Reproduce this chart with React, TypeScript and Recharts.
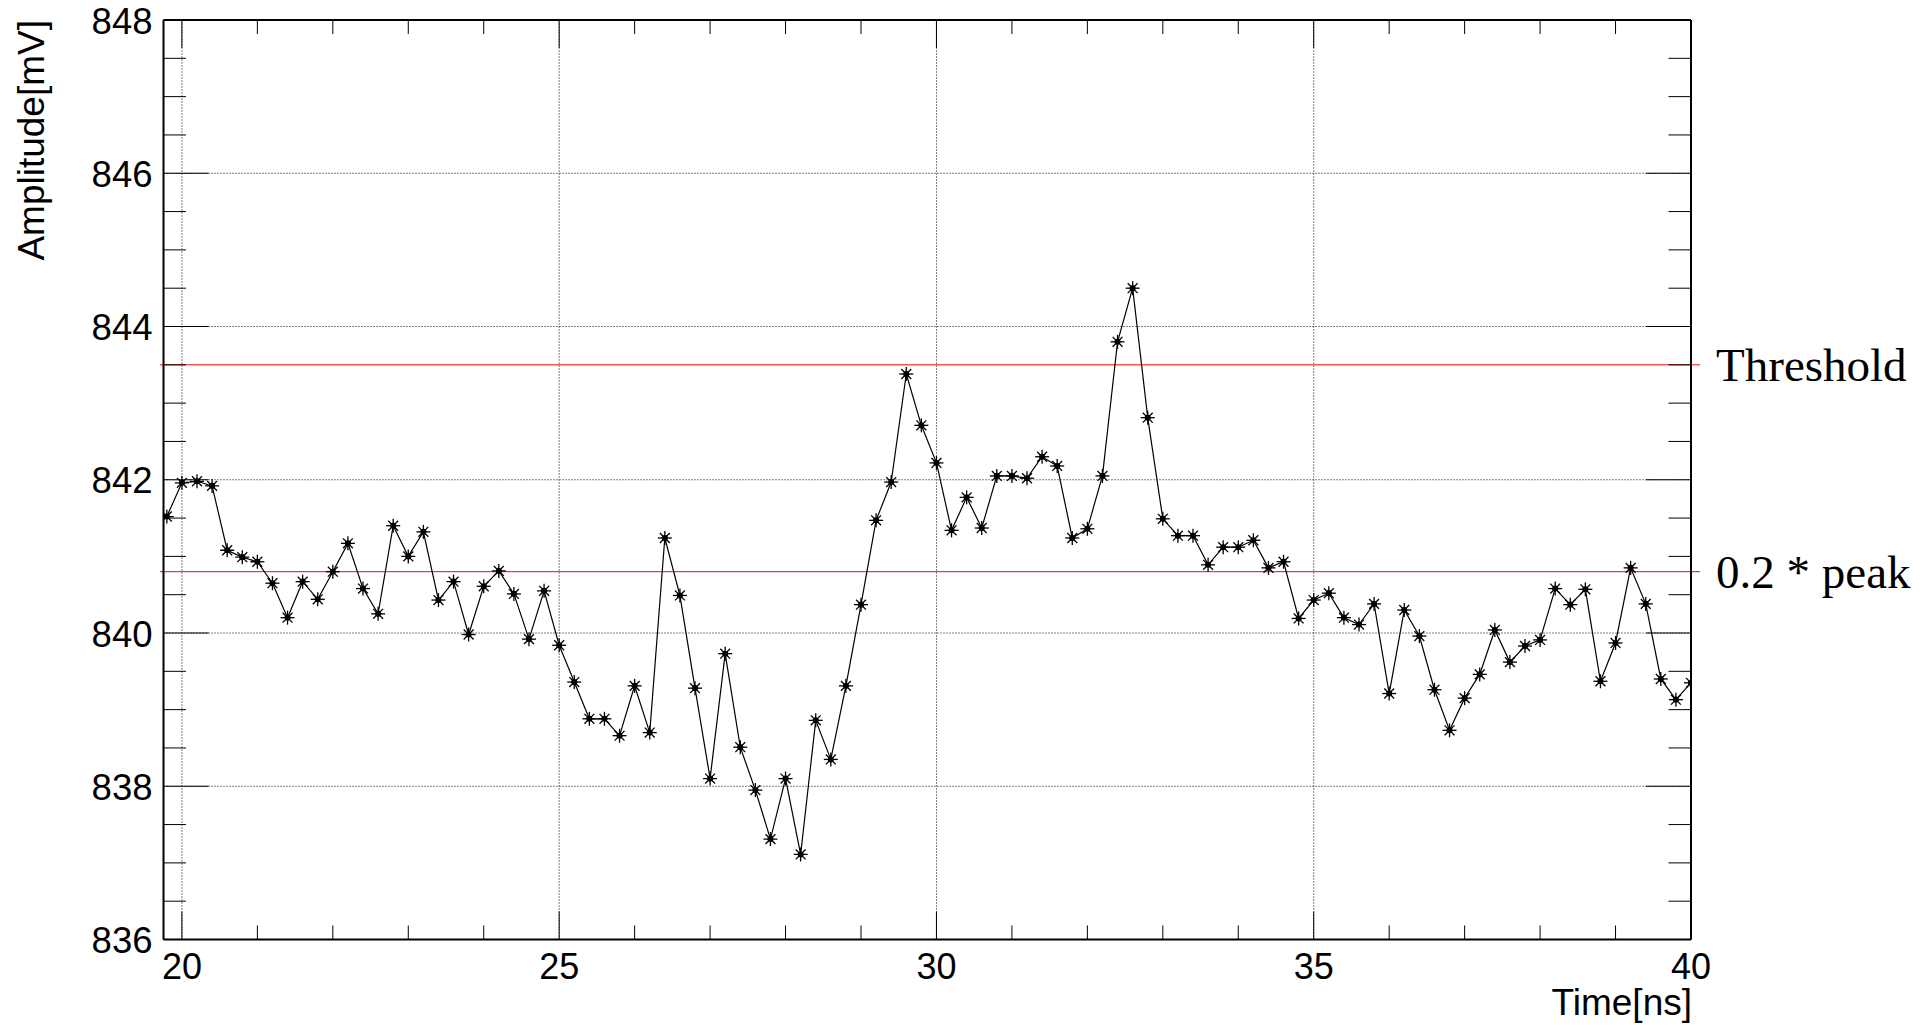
import React from 'react'
import { LineChart, Line, XAxis, YAxis, ReferenceLine } from 'recharts'

// sampled waveform, 0.2 ns spacing
const timeNs = [
  19.8, 20, 20.2, 20.4, 20.6, 20.8, 21, 21.2, 21.4, 21.6,
  21.8, 22, 22.2, 22.4, 22.6, 22.8, 23, 23.2, 23.4, 23.6,
  23.8, 24, 24.2, 24.4, 24.6, 24.8, 25, 25.2, 25.4, 25.6,
  25.8, 26, 26.2, 26.4, 26.6, 26.8, 27, 27.2, 27.4, 27.6,
  27.8, 28, 28.2, 28.4, 28.6, 28.8, 29, 29.2, 29.4, 29.6,
  29.8, 30, 30.2, 30.4, 30.6, 30.8, 31, 31.2, 31.4, 31.6,
  31.8, 32, 32.2, 32.4, 32.6, 32.8, 33, 33.2, 33.4, 33.6,
  33.8, 34, 34.2, 34.4, 34.6, 34.8, 35, 35.2, 35.4, 35.6,
  35.8, 36, 36.2, 36.4, 36.6, 36.8, 37, 37.2, 37.4, 37.6,
  37.8, 38, 38.2, 38.4, 38.6, 38.8, 39, 39.2, 39.4, 39.6,
  39.8, 40,
]

const amplitudeMv = [
  841.52, 841.96, 841.98, 841.92, 841.08, 840.99, 840.93, 840.65, 840.20, 840.67,
  840.44, 840.80, 841.17, 840.58, 840.25, 841.40, 841.00, 841.32, 840.43, 840.67,
  839.98, 840.61, 840.81, 840.51, 839.92, 840.55, 839.84, 839.36, 838.88, 838.88,
  838.66, 839.31, 838.70, 841.24, 840.49, 839.28, 838.10, 839.73, 838.51, 837.95,
  837.31, 838.10, 837.11, 838.86, 838.35, 839.31, 840.37, 841.47, 841.97, 843.38,
  842.71, 842.22, 841.34, 841.77, 841.37, 842.05, 842.05, 842.02, 842.30, 842.18,
  841.24, 841.36, 842.05, 843.80, 844.50, 842.81, 841.49, 841.27, 841.27, 840.89,
  841.12, 841.12, 841.21, 840.85, 840.93, 840.19, 840.43, 840.52, 840.20, 840.11,
  840.38, 839.21, 840.30, 839.96, 839.26, 838.73, 839.15, 839.46, 840.04, 839.62,
  839.83, 839.91, 840.58, 840.37, 840.57, 839.37, 839.87, 840.85, 840.38, 839.40,
  839.13, 839.35,
]

// horizontal levels drawn in red
const levelValues = [843.5, 840.8]
const levelLabels = ['Threshold', '0.2 * peak']

const xDomain = [19.756, 40]
const yDomain = [836, 848]
const xTicks = [20, 21, 22, 23, 24, 25, 26, 27, 28, 29, 30, 31, 32, 33, 34, 35, 36, 37, 38, 39, 40]
const yTicks = [
  836, 836.5, 837, 837.5, 838, 838.5, 839, 839.5, 840, 840.5, 841, 841.5, 842,
  842.5, 843, 843.5, 844, 844.5, 845, 845.5, 846, 846.5, 847, 847.5, 848,
]
const xGrid = [20, 25, 30, 35]
const yGrid = [838, 840, 842, 844, 846]

const data = timeNs.map((t, i) => ({ t, amp: amplitudeMv[i] }))

const sans = '"Liberation Sans", Arial, Helvetica, sans-serif'
const serif = '"Liberation Serif", "Times New Roman", serif'

const isMajorY = (v: number) => v % 2 === 0
const isMajorX = (v: number) => v % 5 === 0

const LeftTick = (props: any) => {
  const { x, y, payload } = props
  const major = isMajorY(payload.value)
  return (
    <g>
      <line x1={x} x2={x + (major ? 45 : 22.5)} y1={y} y2={y} stroke="#000" strokeWidth={1} />
      {major && (
        <text x={x - 11} y={y + 13.5} textAnchor="end" fontSize={36.5} fontFamily={sans} fill="#000">
          {payload.value}
        </text>
      )}
    </g>
  )
}

const RightTick = (props: any) => {
  const { x, y, payload } = props
  const major = isMajorY(payload.value)
  return <line x1={x} x2={x - (major ? 45 : 22.5)} y1={y} y2={y} stroke="#000" strokeWidth={1} />
}

const BottomTick = (props: any) => {
  const { x, y, payload } = props
  const major = isMajorX(payload.value)
  return (
    <g>
      <line x1={x} x2={x} y1={y} y2={y - (major ? 28 : 14)} stroke="#000" strokeWidth={1} />
      {major && (
        <text x={x} y={y + 39.5} textAnchor="middle" fontSize={36} fontFamily={sans} fill="#000">
          {payload.value}
        </text>
      )}
    </g>
  )
}

const TopTick = (props: any) => {
  const { x, y, payload } = props
  const major = isMajorX(payload.value)
  return <line x1={x} x2={x} y1={y} y2={y + (major ? 28 : 14)} stroke="#000" strokeWidth={1} />
}

// asterisk marker
const StarDot = ({ cx, cy }: { cx: number; cy: number }) => {
  const r = 7
  const d = r * Math.SQRT1_2
  return (
    <g stroke="#000" strokeWidth={1.3}>
      <line x1={cx - r} x2={cx + r} y1={cy} y2={cy} />
      <line x1={cx} x2={cx} y1={cy - r} y2={cy + r} />
      <line x1={cx - d} x2={cx + d} y1={cy - d} y2={cy + d} />
      <line x1={cx - d} x2={cx + d} y1={cy + d} y2={cy - d} />
      <circle cx={cx} cy={cy} r={2.4} fill="#000" />
    </g>
  )
}

const YTitle = () => (
  <text
    x={44}
    y={20}
    transform="rotate(-90 44 20)"
    textAnchor="end"
    fontSize={37}
    fontFamily={sans}
    fill="#000"
  >
    Amplitude[mV]
  </text>
)

const XTitle = () => (
  <text x={1692} y={1015} textAnchor="end" fontSize={37} fontFamily={sans} fill="#000">
    Time[ns]
  </text>
)

const frameLine = { stroke: '#000', strokeWidth: 2 }

const App = () => {
  return (
    <div style={{ position: 'absolute', left: 0, top: 0, background: '#fff' }}>
      <LineChart
        width={1932}
        height={1025}
        data={data}
        margin={{ top: 0, right: 201, bottom: 45.5, left: 103.5 }}
      >
        <XAxis
          xAxisId="b"
          dataKey="t"
          type="number"
          domain={xDomain}
          ticks={xTicks}
          interval={0}
          allowDataOverflow
          height={40}
          tickSize={0}
          tickMargin={0}
          tickLine={false}
          tick={BottomTick}
          axisLine={frameLine}
          label={{ content: XTitle }}
        />
        <XAxis
          xAxisId="t"
          orientation="top"
          dataKey="t"
          type="number"
          domain={xDomain}
          ticks={xTicks}
          interval={0}
          allowDataOverflow
          height={20}
          tickSize={0}
          tickMargin={0}
          tickLine={false}
          tick={TopTick}
          axisLine={frameLine}
        />
        <YAxis
          yAxisId="l"
          type="number"
          domain={yDomain}
          ticks={yTicks}
          interval={0}
          allowDataOverflow
          width={60}
          tickSize={0}
          tickMargin={0}
          tickLine={false}
          tick={LeftTick}
          axisLine={frameLine}
          label={{ content: YTitle }}
        />
        <YAxis
          yAxisId="r"
          orientation="right"
          type="number"
          domain={yDomain}
          ticks={yTicks}
          interval={0}
          allowDataOverflow
          width={40}
          tickSize={0}
          tickMargin={0}
          tickLine={false}
          tick={RightTick}
          axisLine={frameLine}
        />

        {/* dotted grid at major ticks */}
        {yGrid.map((v) => (
          <ReferenceLine
            key={`gy${v}`}
            xAxisId="b"
            yAxisId="l"
            y={v}
            stroke="#000"
            strokeWidth={1}
            strokeDasharray="1 2"
          />
        ))}
        {xGrid.map((v) => (
          <ReferenceLine
            key={`gx${v}`}
            xAxisId="b"
            yAxisId="l"
            x={v}
            stroke="#000"
            strokeWidth={1}
            strokeDasharray="1 2"
          />
        ))}

        {levelValues.map((v, i) => (
          <ReferenceLine
            key={`lv${i}`}
            xAxisId="b"
            yAxisId="l"
            segment={[
              { x: 19.71, y: v },
              { x: 40.12, y: v },
            ]}
            ifOverflow="visible"
            stroke="#ff0000"
            strokeWidth={1}
            label={{
              value: levelLabels[i],
              position: 'right',
              offset: 16,
              fill: '#000',
              fontSize: 47,
              fontFamily: serif,
            }}
          />
        ))}

        <Line
          xAxisId="b"
          yAxisId="l"
          type="linear"
          dataKey="amp"
          stroke="#000"
          strokeWidth={1.2}
          dot={(p: any) => <StarDot key={p.index} cx={p.cx} cy={p.cy} />}
          activeDot={false}
          isAnimationActive={false}
        />
      </LineChart>
    </div>
  )
}

export default App
